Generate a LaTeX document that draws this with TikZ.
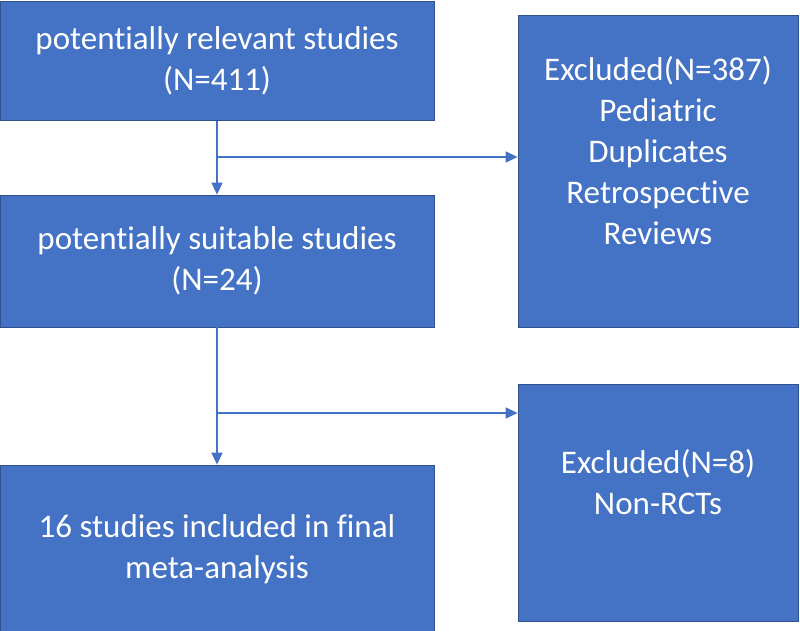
\documentclass[tikz,border=0pt]{standalone}
\usepackage{fontspec}
\setmainfont[RawFeature={-liga;-clig;-calt;-dlig}]{Carlito}
\usetikzlibrary{arrows.meta}
\definecolor{boxfill}{HTML}{4472C4}
\definecolor{boxline}{HTML}{2F528F}
\definecolor{arrowcol}{HTML}{4472C4}
\begin{document}
\begin{tikzpicture}[x=1pt,y=-1pt,
  flowbox/.style={draw=boxline, line width=0.8pt, fill=boxfill, text=white,
    align=center, inner sep=0pt, font=\fontsize{33}{41}\selectfont},
  conn/.style={draw=arrowcol, line width=1.6pt,
    -{Triangle[length=12pt,width=11pt]}}]
\useasboundingbox (0,0) rectangle (800,631);
\node[flowbox, minimum width=434pt, minimum height=119pt] (b1) at (217,61)
  {potentially relevant studies\\(N=411)};
\node[flowbox, minimum width=434pt, minimum height=132pt] (b2) at (217,261)
  {potentially suitable studies\\(N=24)};
\node[flowbox, minimum width=434pt, minimum height=168pt] (b3) at (217,549)
  {16 studies included in final\\meta-analysis};
\node[flowbox, minimum width=280pt, minimum height=312pt] (r1) at (658,171)
  {Excluded(N=387)\\Pediatric\\Duplicates\\Retrospective\\Reviews\\\mbox{}};
\node[flowbox, minimum width=280pt, minimum height=237pt] (r2) at (658,502.5)
  {Excluded(N=8)\\Non-RCTs\\\mbox{}};
\coordinate (j1) at (217,157);
\coordinate (j2) at (217,413);
\draw[conn] (b1.south) -- (b2.north);
\draw[conn] (j1) -- (j1 -| r1.west);
\draw[conn] (b2.south) -- (b3.north);
\draw[conn] (j2) -- (j2 -| r2.west);
\end{tikzpicture}
\end{document}
